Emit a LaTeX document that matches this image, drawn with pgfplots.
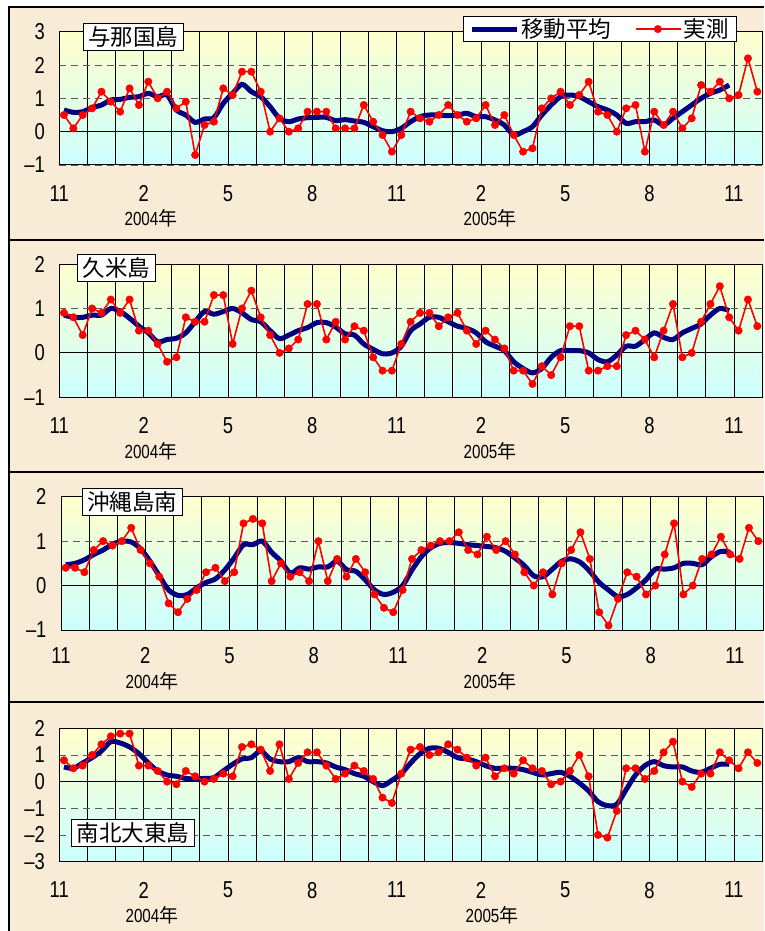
\documentclass[border=0pt]{standalone}
\usepackage{pgfplots}
\pgfplotsset{compat=1.18}
\usepackage{pgfplotstable}
\usepackage{fontspec}
\setmainfont{Noto Sans CJK JP}
\newfontfamily\numfont[FakeStretch=0.8]{Liberation Sans}

\definecolor{bgbeige}{RGB}{248,236,214}
\definecolor{topyel}{RGB}{255,255,204}
\definecolor{botcyan}{RGB}{204,255,255}
\definecolor{navyb}{RGB}{0,0,128}
\definecolor{redm}{RGB}{255,0,0}

\pgfplotstableread{
x obs ma
0.5 0.5 0.65
1.5 0.1 0.58
2.5 0.5 0.6
3.5 0.7 0.72
4.5 1.2 0.8
5.5 0.9 0.95
6.5 0.6 0.97
7.5 1.3 1.03
8.5 0.8 1.05
9.5 1.5 1.15
10.5 1.0 1.05
11.5 1.2 1.1
12.5 0.7 0.65
13.5 0.9 0.5
14.5 -0.7 0.28
15.5 0.2 0.38
16.5 0.3 0.42
17.5 1.3 0.85
18.5 1.1 1.15
19.5 1.8 1.42
20.5 1.8 1.2
21.5 1.2 1.05
22.5 0.0 0.75
23.5 0.4 0.4
24.5 0.0 0.3
25.5 0.1 0.38
26.5 0.6 0.42
27.5 0.6 0.43
28.5 0.6 0.43
29.5 0.1 0.33
30.5 0.1 0.36
31.5 0.1 0.32
32.5 0.8 0.28
33.5 0.3 0.15
34.5 -0.1 0.03
35.5 -0.6 0.0
36.5 -0.1 0.1
37.5 0.6 0.3
38.5 0.4 0.45
39.5 0.3 0.5
40.5 0.5 0.5
41.5 0.8 0.48
42.5 0.5 0.5
43.5 0.3 0.55
44.5 0.4 0.45
45.5 0.8 0.45
46.5 0.2 0.35
47.5 0.5 0.2
48.5 -0.1 -0.1
49.5 -0.6 0.0
50.5 -0.5 0.15
51.5 0.7 0.5
52.5 1.0 0.8
53.5 1.2 1.05
54.5 0.8 1.1
55.5 1.1 1.05
56.5 1.5 0.9
57.5 0.6 0.75
58.5 0.5 0.65
59.5 0.0 0.5
60.5 0.7 0.25
61.5 0.8 0.3
62.5 -0.6 0.3
63.5 0.6 0.35
64.5 0.2 0.2
65.5 0.6 0.4
66.5 0.1 0.6
67.5 0.4 0.8
68.5 1.4 1.0
69.5 1.2 1.15
70.5 1.5 1.25
71.5 1.0 1.4
72.5 1.1 nan
73.5 2.2 nan
74.5 1.2 nan
}\tabA

\pgfplotstableread{
x obs ma
0.5 0.9 0.85
1.5 0.8 0.8
2.5 0.4 0.8
3.5 1.0 0.85
4.5 0.9 0.85
5.5 1.2 1.0
6.5 0.9 0.93
7.5 1.2 0.78
8.5 0.5 0.6
9.5 0.5 0.45
10.5 0.2 0.25
11.5 -0.2 0.3
12.5 -0.1 0.33
13.5 0.8 0.45
14.5 0.7 0.7
15.5 0.7 0.93
16.5 1.3 0.87
17.5 1.3 0.93
18.5 0.2 1.0
19.5 1.0 0.9
20.5 1.4 0.75
21.5 0.8 0.7
22.5 0.4 0.5
23.5 0.0 0.32
24.5 0.1 0.4
25.5 0.3 0.5
26.5 1.1 0.57
27.5 1.1 0.68
28.5 0.3 0.68
29.5 0.7 0.58
30.5 0.3 0.43
31.5 0.6 0.4
32.5 0.5 0.2
33.5 -0.1 0.08
34.5 -0.4 -0.02
35.5 -0.4 0.0
36.5 0.2 0.15
37.5 0.7 0.5
38.5 0.9 0.65
39.5 0.9 0.8
40.5 0.6 0.8
41.5 0.8 0.7
42.5 0.9 0.6
43.5 0.5 0.55
44.5 0.2 0.45
45.5 0.5 0.25
46.5 0.3 0.15
47.5 0.1 0.05
48.5 -0.4 -0.2
49.5 -0.4 -0.35
50.5 -0.7 -0.45
51.5 -0.3 -0.35
52.5 -0.5 -0.1
53.5 -0.1 0.05
54.5 0.6 0.05
55.5 0.6 0.05
56.5 -0.4 0.0
57.5 -0.4 -0.15
58.5 -0.3 -0.2
59.5 -0.3 -0.05
60.5 0.4 0.15
61.5 0.5 0.15
62.5 0.3 0.3
63.5 -0.1 0.45
64.5 0.5 0.35
65.5 1.1 0.3
66.5 -0.1 0.45
67.5 0.0 0.55
68.5 0.7 0.65
69.5 1.1 0.85
70.5 1.5 1.0
71.5 0.8 0.95
72.5 0.5 nan
73.5 1.2 nan
74.5 0.6 nan
}\tabB

\pgfplotstableread{
x obs ma
0.5 0.4 0.47
1.5 0.4 0.5
2.5 0.3 0.58
3.5 0.8 0.7
4.5 1.0 0.8
5.5 0.9 0.93
6.5 1.0 1.0
7.5 1.3 0.98
8.5 0.8 0.83
9.5 0.5 0.55
10.5 0.2 0.22
11.5 -0.4 -0.1
12.5 -0.6 -0.22
13.5 -0.3 -0.2
14.5 -0.1 -0.05
15.5 0.3 0.07
16.5 0.4 0.15
17.5 0.1 0.35
18.5 0.3 0.62
19.5 1.4 0.92
20.5 1.5 0.92
21.5 1.4 1.0
22.5 0.1 0.75
23.5 0.5 0.55
24.5 0.2 0.28
25.5 0.3 0.4
26.5 0.1 0.37
27.5 1.0 0.42
28.5 0.1 0.42
29.5 0.6 0.55
30.5 0.2 0.36
31.5 0.6 0.32
32.5 0.3 0.13
33.5 -0.2 -0.1
34.5 -0.5 -0.2
35.5 -0.6 -0.15
36.5 -0.1 0.0
37.5 0.6 0.35
38.5 0.8 0.65
39.5 0.9 0.85
40.5 1.0 0.95
41.5 1.0 0.97
42.5 1.2 0.95
43.5 0.8 0.92
44.5 0.7 0.9
45.5 1.1 0.88
46.5 0.8 0.85
47.5 1.0 0.77
48.5 0.7 0.62
49.5 0.3 0.45
50.5 0.0 0.22
51.5 0.3 0.2
52.5 -0.2 0.37
53.5 0.5 0.55
54.5 0.8 0.6
55.5 1.2 0.52
56.5 0.6 0.32
57.5 -0.6 0.07
58.5 -0.9 -0.1
59.5 -0.3 -0.25
60.5 0.3 -0.2
61.5 0.2 -0.05
62.5 -0.2 0.13
63.5 0.0 0.37
64.5 0.7 0.37
65.5 1.4 0.4
66.5 -0.2 0.5
67.5 0.0 0.5
68.5 0.6 0.47
69.5 0.7 0.65
70.5 1.1 0.77
71.5 0.7 0.75
72.5 0.6 nan
73.5 1.3 nan
74.5 1.0 nan
}\tabC

\pgfplotstableread{
x obs ma
0.5 0.8 0.55
1.5 0.5 0.5
2.5 0.6 0.7
3.5 1.0 0.9
4.5 1.4 1.15
5.5 1.7 1.5
6.5 1.8 1.45
7.5 1.8 1.3
8.5 0.6 1.05
9.5 0.6 0.7
10.5 0.4 0.4
11.5 0.0 0.25
12.5 -0.1 0.2
13.5 0.4 0.12
14.5 0.2 0.1
15.5 0.0 0.12
16.5 0.1 0.15
17.5 0.3 0.4
18.5 0.2 0.65
19.5 1.3 0.85
20.5 1.4 0.9
21.5 1.2 1.15
22.5 0.4 0.85
23.5 1.4 0.75
24.5 0.1 0.75
25.5 0.7 0.9
26.5 1.1 0.75
27.5 1.1 0.75
28.5 0.6 0.7
29.5 0.1 0.55
30.5 0.3 0.45
31.5 0.6 0.3
32.5 0.4 0.2
33.5 0.1 0.0
34.5 -0.6 -0.15
35.5 -0.8 0.05
36.5 0.3 0.3
37.5 1.2 0.7
38.5 1.3 1.05
39.5 1.0 1.25
40.5 1.1 1.25
41.5 1.4 1.1
42.5 1.2 0.9
43.5 0.9 0.85
44.5 0.6 0.75
45.5 0.9 0.6
46.5 0.2 0.5
47.5 0.5 0.5
48.5 0.3 0.5
49.5 0.8 0.45
50.5 0.5 0.35
51.5 0.4 0.25
52.5 -0.1 0.3
53.5 0.0 0.35
54.5 0.4 0.2
55.5 1.0 -0.05
56.5 0.2 -0.35
57.5 -2.0 -0.75
58.5 -2.1 -0.9
59.5 -1.1 -0.85
60.5 0.5 -0.3
61.5 0.5 0.25
62.5 0.1 0.6
63.5 0.4 0.75
64.5 1.1 0.6
65.5 1.5 0.55
66.5 0.0 0.55
67.5 -0.2 0.4
68.5 0.3 0.35
69.5 0.3 0.5
70.5 1.1 0.65
71.5 0.8 0.65
72.5 0.5 nan
73.5 1.1 nan
74.5 0.7 nan
}\tabD

\pgfplotsset{
  panel/.style={
    scale only axis, width=702.7pt, height=133.3pt, anchor=north west,
    xmin=0, xmax=75,
    xtick={0,3,...,72},
    xticklabels={11,,,2,,,5,,,8,,,11,,,2,,,5,,,8,,,11},
    xmajorgrids, ymajorgrids,
    x grid style={black, line width=0.7pt},
    y grid style={black!65, dashed, dash pattern=on 7pt off 5pt, line width=0.8pt},
    major tick length=0pt, minor tick length=0pt,
    axis line style={black, line width=1pt},
    axis background/.style={shade, top color=topyel, bottom color=botcyan},
    xticklabel style={font=\numfont\fontsize{23}{23}\selectfont, yshift=-17pt},
    yticklabel style={font=\numfont\fontsize{23}{23}\selectfont, xshift=-11pt},
    clip=false,
    legend image code/.code={\draw[mark repeat=2,mark phase=2,##1] plot coordinates {(0pt,0pt) (22pt,0pt) (45pt,0pt)};},
  },
  mastyle/.style={navyb, line width=5pt, smooth, tension=0.5},
  obsstyle/.style={redm, line width=1.6pt, mark=*, mark size=3.7pt, mark options={fill=redm, draw=redm, line width=0.5pt}},
}

\begin{document}
\begin{tikzpicture}
\path[use as bounding box] (0pt,0pt) rectangle (764pt,-931pt);
\fill[white] (0pt,0pt) rectangle (764pt,-931pt);
\fill[bgbeige] (9pt,-7pt) rectangle (764pt,-931pt);
\draw[black, line width=2pt] (9pt,-931pt) -- (9pt,-7.5pt) -- (764pt,-7.5pt);
\draw[black, line width=2pt] (9pt,-240pt) -- (764pt,-240pt);
\draw[black, line width=2pt] (9pt,-472pt) -- (764pt,-472pt);
\draw[black, line width=2pt] (9pt,-702pt) -- (764pt,-702pt);

% Panel 1
\begin{axis}[panel, at={(59.3pt,-31.7pt)}, ymin=-1, ymax=3, ytick={-1,0,1,2,3},
  yticklabels={\textendash1,0,1,2,3},
  legend style={at={(axis description cs:0.9645,1.118)}, anchor=north east, draw=black, fill=white,
    line width=0.8pt,
    font=\fontsize{22.5}{24}\selectfont, legend columns=2, inner xsep=6pt, inner ysep=0.5pt,
    /tikz/every even column/.append style={column sep=22pt}},
  legend cell align=left]
\addplot[black, line width=1pt, forget plot] coordinates {(0,0) (75,0)};
\addplot[mastyle] table[x=x, y=ma] {\tabA};
\addlegendentry{移動平均}
\addplot[obsstyle] table[x=x, y=obs] {\tabA};
\addlegendentry{実測}
\end{axis}

% Panel 2
\begin{axis}[panel, at={(59.3pt,-264pt)}, ymin=-1, ymax=2, ytick={-1,0,1,2},
  yticklabels={\textendash1,0,1,2}]
\addplot[black, line width=1pt, forget plot] coordinates {(0,0) (75,0)};
\addplot[mastyle] table[x=x, y=ma] {\tabB};
\addplot[obsstyle] table[x=x, y=obs] {\tabB};
\end{axis}

% Panel 3
\begin{axis}[panel, at={(61pt,-496.7pt)}, width=702pt, ymin=-1, ymax=2, ytick={-1,0,1,2},
  yticklabels={\textendash1,0,1,2}, xticklabel style={yshift=3pt}]
\addplot[black, line width=1pt, forget plot] coordinates {(0,0) (75,0)};
\addplot[mastyle] table[x=x, y=ma] {\tabC};
\addplot[obsstyle] table[x=x, y=obs] {\tabC};
\end{axis}

% Panel 4
\begin{axis}[panel, at={(59.3pt,-728.3pt)}, ymin=-3, ymax=2, ytick={-3,-2,-1,0,1,2},
  yticklabels={\textendash3,\textendash2,\textendash1,0,1,2}]
\addplot[black, line width=1pt, forget plot] coordinates {(0,0) (75,0)};
\addplot[mastyle] table[x=x, y=ma] {\tabD};
\addplot[obsstyle] table[x=x, y=obs] {\tabD};
\end{axis}

% Station name boxes
\tikzset{stn/.style={draw=black, fill=white, line width=0.8pt, inner xsep=5pt, inner ysep=3pt, font=\fontsize{22.5}{22.5}\selectfont}}
\node[stn] at (133pt,-37pt) {与那国島};
\node[stn] at (116.5pt,-268pt) {久米島};
\node[stn] at (132pt,-501.5pt) {沖縄島南};
\node[stn] at (133pt,-832.5pt) {南北大東島};

% Year labels
\tikzset{yr/.style={font=\fontsize{19}{19}\selectfont, inner sep=0pt}}
\node[yr] at (151pt,-218pt) {{\numfont 2004}年};
\node[yr] at (490pt,-218pt) {{\numfont 2005}年};
\node[yr] at (151pt,-451pt) {{\numfont 2004}年};
\node[yr] at (490pt,-451pt) {{\numfont 2005}年};
\node[yr] at (152pt,-681pt) {{\numfont 2004}年};
\node[yr] at (490pt,-681pt) {{\numfont 2005}年};
\node[yr] at (152pt,-915pt) {{\numfont 2004}年};
\node[yr] at (492pt,-915pt) {{\numfont 2005}年};
\end{tikzpicture}
\end{document}
